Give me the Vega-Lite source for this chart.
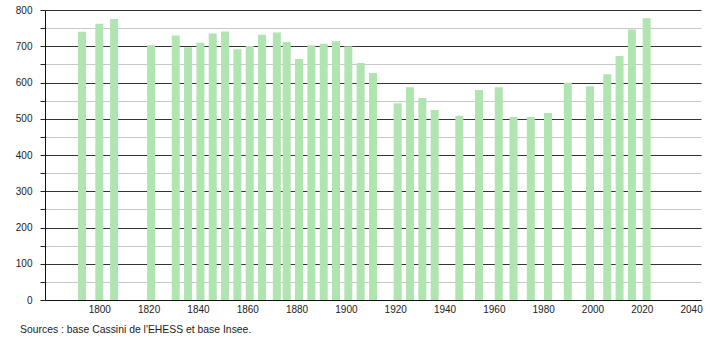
{
  "$schema": "https://vega.github.io/schema/vega-lite/v6.json",
  "autosize": {"type": "none"},
  "width": 656,
  "height": 290,
  "padding": {"left": 45, "top": 10, "right": 9, "bottom": 40},
  "background": "white",
  "config": {
    "view": {"stroke": null},
    "font": "Liberation Sans",
    "axis": {"labelFont": "Liberation Sans", "labelFontSize": 10, "labelColor": "#222"}
  },
  "title": {
    "text": "Sources : base Cassini de l'EHESS et base Insee.",
    "orient": "bottom",
    "anchor": "start",
    "frame": "group",
    "dx": -25,
    "offset": 11,
    "fontSize": 10.4,
    "fontWeight": "normal",
    "font": "Liberation Sans",
    "color": "#222"
  },
  "data": {
    "values": [
      {"annee": 1793, "population": 740},
      {"annee": 1800, "population": 762},
      {"annee": 1806, "population": 775},
      {"annee": 1821, "population": 703},
      {"annee": 1831, "population": 730},
      {"annee": 1836, "population": 697},
      {"annee": 1841, "population": 710},
      {"annee": 1846, "population": 735},
      {"annee": 1851, "population": 741},
      {"annee": 1856, "population": 692},
      {"annee": 1861, "population": 701},
      {"annee": 1866, "population": 732},
      {"annee": 1872, "population": 738},
      {"annee": 1876, "population": 712},
      {"annee": 1881, "population": 665},
      {"annee": 1886, "population": 703},
      {"annee": 1891, "population": 707},
      {"annee": 1896, "population": 714},
      {"annee": 1901, "population": 700},
      {"annee": 1906, "population": 654},
      {"annee": 1911, "population": 626},
      {"annee": 1921, "population": 543},
      {"annee": 1926, "population": 587},
      {"annee": 1931, "population": 557},
      {"annee": 1936, "population": 524},
      {"annee": 1946, "population": 508},
      {"annee": 1954, "population": 579},
      {"annee": 1962, "population": 587},
      {"annee": 1968, "population": 505},
      {"annee": 1975, "population": 505},
      {"annee": 1982, "population": 516},
      {"annee": 1990, "population": 599},
      {"annee": 1999, "population": 590},
      {"annee": 2006, "population": 623},
      {"annee": 2011, "population": 673},
      {"annee": 2016, "population": 746},
      {"annee": 2022, "population": 777}
    ]
  },
  "mark": {"type": "bar", "size": 8, "color": "#b0e4b0"},
  "encoding": {
    "x": {
      "field": "annee",
      "type": "quantitative",
      "scale": {"domain": [1780, 2042], "nice": false, "zero": false},
      "axis": {
        "title": null,
        "values": [1800, 1820, 1840, 1860, 1880, 1900, 1920, 1940, 1960, 1980, 2000, 2020, 2040],
        "format": "d",
        "grid": false,
        "ticks": false,
        "labelPadding": 4,
        "domainColor": "#111",
        "domainWidth": 1,
        "labelFlush": false,
        "labelOverlap": false
      }
    },
    "y": {
      "field": "population",
      "type": "quantitative",
      "scale": {"domain": [0, 800], "nice": false},
      "axis": {
        "title": null,
        "values": [0, 50, 100, 150, 200, 250, 300, 350, 400, 450, 500, 550, 600, 650, 700, 750, 800],
        "labelExpr": "datum.value % 100 === 0 ? datum.label : ''",
        "grid": true,
        "gridColor": {"condition": {"test": "datum.value % 100 === 0", "value": "#333333"}, "value": "#c8c8c8"},
        "gridOpacity": 1,
        "gridWidth": 1,
        "tickSize": 5,
        "tickColor": "#222",
        "domainColor": "#111",
        "labelPadding": 8,
        "labelFlush": false
      }
    }
  }
}
